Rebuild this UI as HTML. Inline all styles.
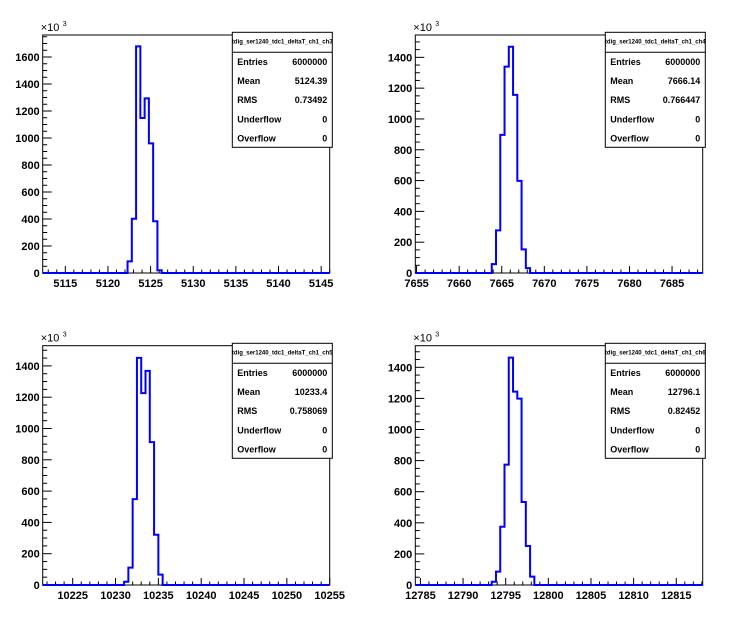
<!DOCTYPE html>
<html><head><meta charset="utf-8">
<style>
body{margin:0;background:#fff;}
svg text{font-family:"Liberation Sans",Arial,sans-serif;}
</style></head>
<body>
<svg id="c" width="746" height="622" xmlns="http://www.w3.org/2000/svg"></svg>
<script>
// panel data
const titles = ["tdig_ser1240_tdc1_deltaT_ch1_ch3","tdig_ser1240_tdc1_deltaT_ch1_ch4","tdig_ser1240_tdc1_deltaT_ch1_ch5","tdig_ser1240_tdc1_deltaT_ch1_ch6"];
const entries = ["6000000","6000000","6000000","6000000"];
const means = ["5124.39","7666.14","10233.4","12796.1"];
const rmsVals = ["0.73492","0.766447","0.758069","0.82452"];
const xMins = [5112.35,7654.85,10221.5,12784.4];
const xMaxs = [5146.0,7688.6,10255.0,12818.1];
const yMaxs = [1763,1545,1529,1539];
const yTicks = [[0,200,400,600,800,1000,1200,1400,1600],[0,200,400,600,800,1000,1200,1400],[0,200,400,600,800,1000,1200,1400],[0,200,400,600,800,1000,1200,1400]];
const xTicks = [[5115,5120,5125,5130,5135,5140,5145],[7655,7660,7665,7670,7675,7680,7685],[10225,10230,10235,10240,10245,10250,10255],[12785,12790,12795,12800,12805,12810,12815]];
const binStarts = [5122.3,7663.83,10231.0,12793.36];
const binWidth = 0.5;
const counts0 = [86,402,1679,1148,1294,960,383,20];
const counts1 = [58,277,897,1340,1469,1156,598,153,32];
const counts2 = [21,111,549,1451,1226,1368,913,321,66];
const counts3 = [21,86,375,774,1462,1244,1199,534,251,54];
const allCounts = [counts0,counts1,counts2,counts3];

const NS="http://www.w3.org/2000/svg";
const svg=document.getElementById('c');
function mk(tag,attrs,parent){const e=document.createElementNS(NS,tag);for(const k in attrs)e.setAttribute(k,attrs[k]);(parent||svg).appendChild(e);return e;}
const frames=[{x0:42.7,x1:329.7,y0:35,y1:273,bx:232.3,by:32.3},{x0:415.3,x1:702.7,y0:35,y1:273,bx:605.3,by:32.3},{x0:42.7,x1:329.7,y0:345.7,y1:585,bx:232.3,by:343.3},{x0:415.3,x1:702.7,y0:345.7,y1:585,bx:605.3,by:343.3}];

for(let p=0;p<4;p++){
  const f=frames[p];
  const g=mk('g',{});
  
  
  const sx=v=>f.x0+(v-xMins[p])/(xMaxs[p]-xMins[p])*(f.x1-f.x0);
  const sy=v=>f.y1-v/yMaxs[p]*(f.y1-f.y0);
  const fr=mk('rect',{x:f.x0,y:f.y0,width:f.x1-f.x0,height:f.y1-f.y0,fill:'none',stroke:'#000','stroke-width':1},g);
  
  
  // y ticks
  const yt=yTicks[p];
  for(let v=0;v<=yMaxs[p];v+=50){
    const major=v%200===0;
    mk('line',{x1:f.x0,x2:f.x0+(major?9:4.5),y1:sy(v),y2:sy(v),stroke:'#000','stroke-width':1},g);
  }
  yt.forEach(v=>{
    const t=mk('text',{x:f.x0-3,y:sy(v)+4,'text-anchor':'end','font-size':'11','font-weight':'bold'},g);
    t.textContent=v;
    
    
  });
  const ex=mk('text',{x:f.x0-2,y:f.y0-4,'font-size':'11'},g);
  ex.textContent='×10';
  
  
  const ex2=mk('text',{x:f.x0+20,y:f.y0-9,'font-size':'7'},g);
  ex2.textContent='3';
  // x ticks
  for(let v=Math.ceil(xMins[p]);v<=xMaxs[p];v+=1){
    const major=v%5===0;
    mk('line',{x1:sx(v),x2:sx(v),y1:f.y1,y2:f.y1-(major?7:3.5),stroke:'#000','stroke-width':1},g);
  }
  xTicks[p].forEach(v=>{
    const t=mk('text',{x:sx(v),y:f.y1+14,'text-anchor':'middle','font-size':'11','font-weight':'bold'},g);
    t.textContent=v;
    
    
  });
  // histogram
  const c=allCounts[p];
  let d='M'+f.x0+','+sy(0)+' L'+sx(binStarts[p])+','+sy(0);
  c.forEach((v,i)=>{
    const a=sx(binStarts[p]+i*binWidth), b=sx(binStarts[p]+(i+1)*binWidth);
    d+=' L'+a+','+sy(v)+' L'+b+','+sy(v);
  });
  d+=' L'+sx(binStarts[p]+c.length*binWidth)+','+sy(0)+' L'+f.x1+','+sy(0);
  const path=mk('path',{d:d,fill:'none',stroke:'#0000ff','stroke-width':2},g);
  
  
  // stats box
  const sb=mk('g',{},g);
  
  
  mk('rect',{x:f.bx,y:f.by,width:100,height:115,fill:'#fff',stroke:'#000','stroke-width':1},sb);
  mk('line',{x1:f.bx,x2:f.bx+100,y1:f.by+20,y2:f.by+20,stroke:'#000','stroke-width':1},sb);
  const tt=mk('text',{x:f.bx+50,y:f.by+11,'text-anchor':'middle','font-size':'6','font-weight':'bold'},sb);
  tt.textContent=titles[p];
  
  
  const labels=['Entries','Mean','RMS','Underflow','Overflow'];
  const vals=[entries[p],means[p],rmsVals[p],'0','0'];
  labels.forEach((l,i)=>{
    const yy=f.by+32.5+i*19.2;
    const a=mk('text',{x:f.bx+5,y:yy,'font-size':'9','font-weight':'bold'},sb);
    a.textContent=l;
    
    
    const b=mk('text',{x:f.bx+95,y:yy,'text-anchor':'end','font-size':'9','font-weight':'bold'},sb);
    b.textContent=vals[i];
    
    
  });
}
</script>
</body></html>
